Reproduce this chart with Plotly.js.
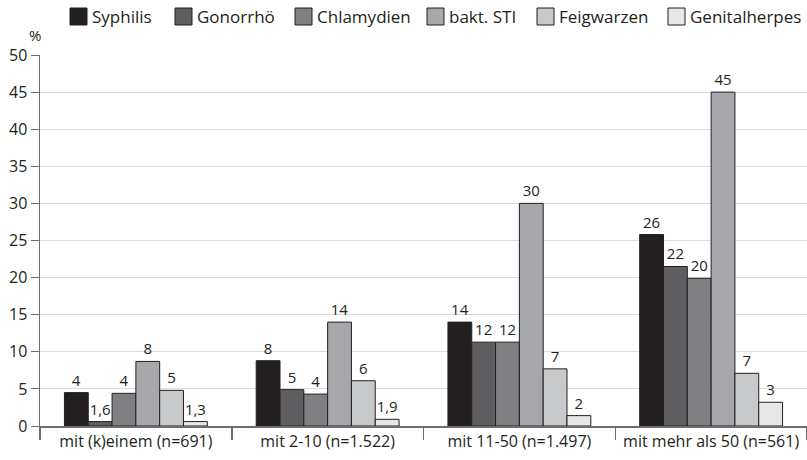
<!DOCTYPE html>
<html>
<head>
<meta charset="utf-8">
<script src="https://cdn.plot.ly/plotly-3.0.1.min.js"></script>
<style>html,body{margin:0;padding:0;background:#fff;}#chart{width:807px;height:460px;}</style>
</head>
<body>
<div id="chart"></div>
<script>
// Categories (groups on the x axis)
const categories = ["mit (k)einem (n=691)", "mit 2-10 (n=1.522)", "mit 11-50 (n=1.497)", "mit mehr als 50 (n=561)"];

// Series names
const seriesNames = ["Syphilis", "Gonorrhö", "Chlamydien", "bakt. STI", "Feigwarzen", "Genitalherpes"];

// Bar heights (%)
const syphilis      = [4.5, 8.8, 14.0, 25.8];
const gonorrhoe     = [0.6, 4.9, 11.3, 21.5];
const chlamydien    = [4.4, 4.3, 11.3, 19.9];
const baktSTI       = [8.7, 14.0, 30.0, 45.0];
const feigwarzen    = [4.8, 6.1, 7.7, 7.1];
const genitalherpes = [0.6, 0.9, 1.4, 3.2];

// Value labels printed above the bars
const syphilisLbl      = ["4", "8", "14", "26"];
const gonorrhoeLbl     = ["1,6", "5", "12", "22"];
const chlamydienLbl    = ["4", "4", "12", "20"];
const baktSTILbl       = ["8", "14", "30", "45"];
const feigwarzenLbl    = ["5", "6", "7", "7"];
const genitalherpesLbl = ["1,3", "1,9", "2", "3"];

// Y-axis ticks
const yTickVals = [0, 5, 10, 15, 20, 25, 30, 35, 40, 45, 50];

const values = [syphilis, gonorrhoe, chlamydien, baktSTI, feigwarzen, genitalherpes];
const labels = [syphilisLbl, gonorrhoeLbl, chlamydienLbl, baktSTILbl, feigwarzenLbl, genitalherpesLbl];
const colors = ["#231f20", "#5f5f61", "#808083", "#a7a8ab", "#c8c9cb", "#e6e7e8"];

const FONT = "Open Sans, Noto Sans, sans-serif";
const W = 807, H = 460, ML = 40, MR = 0, MT = 55, MB = 34;
const PW = W - ML - MR, PH = H - MT - MB;
const px2x = p => (p - ML) / PW;
const py2y = p => (H - MB - p) / PH;

const traces = seriesNames.map((name, i) => ({
  type: "bar",
  name: name,
  x: categories,
  y: values[i],
  text: labels[i],
  textposition: "outside",
  cliponaxis: false,
  constraintext: "none",
  textfont: {family: FONT, size: 15, color: "#231f20"},
  marker: {color: colors[i], line: {color: "#231f20", width: 1}},
  hoverinfo: "none",
  showlegend: false
}));

// Custom legend (larger swatches, as in the reference)
const legendX = [70, 175, 295, 427, 537, 668];
const swatch = 17, legTop = 8;
const shapes = [];
const annotations = [];
seriesNames.forEach((name, i) => {
  shapes.push({
    type: "rect", xref: "paper", yref: "paper",
    x0: px2x(legendX[i]), x1: px2x(legendX[i] + swatch),
    y0: py2y(legTop + swatch), y1: py2y(legTop),
    fillcolor: colors[i], line: {color: "#231f20", width: 1}
  });
  annotations.push({
    text: name, xref: "paper", yref: "paper",
    x: px2x(legendX[i] + swatch + 3), y: py2y(legTop + swatch / 2),
    xanchor: "left", yanchor: "middle", showarrow: false,
    font: {family: FONT, size: 17, color: "#231f20"}
  });
});
annotations.push({
  text: "%",
  xref: "paper", yref: "paper",
  x: px2x(43), y: py2y(47),
  xanchor: "right", yanchor: "bottom",
  showarrow: false,
  font: {family: FONT, size: 15, color: "#231f20"}
});

const layout = {
  width: W,
  height: H,
  margin: {l: ML, r: MR, t: MT, b: MB},
  paper_bgcolor: "#ffffff",
  plot_bgcolor: "#ffffff",
  font: {family: FONT, size: 15, color: "#231f20"},
  barmode: "group",
  bargap: 0.255,
  bargroupgap: 0,
  showlegend: false,
  xaxis: {
    type: "category",
    showline: true,
    linecolor: "#6d6e71",
    linewidth: 1.5,
    ticks: "outside",
    tickson: "boundaries",
    ticklen: 12,
    tickcolor: "#6d6e71",
    tickwidth: 1.5,
    showgrid: false,
    tickfont: {family: FONT, size: 16, color: "#231f20"},
    fixedrange: true
  },
  yaxis: {
    range: [0, 50],
    tickvals: yTickVals,
    ticktext: yTickVals.map(String),
    showline: true,
    linecolor: "#6d6e71",
    linewidth: 1.5,
    ticks: "outside",
    ticklen: 8,
    tickcolor: "#6d6e71",
    tickwidth: 1,
    showgrid: true,
    gridcolor: "#dcdcdc",
    gridwidth: 1,
    zeroline: false,
    tickfont: {family: FONT, size: 16, color: "#231f20"},
    fixedrange: true
  },
  shapes: shapes,
  annotations: annotations
};

Plotly.newPlot("chart", traces, layout, {displayModeBar: false, staticPlot: true});
</script>
</body>
</html>
